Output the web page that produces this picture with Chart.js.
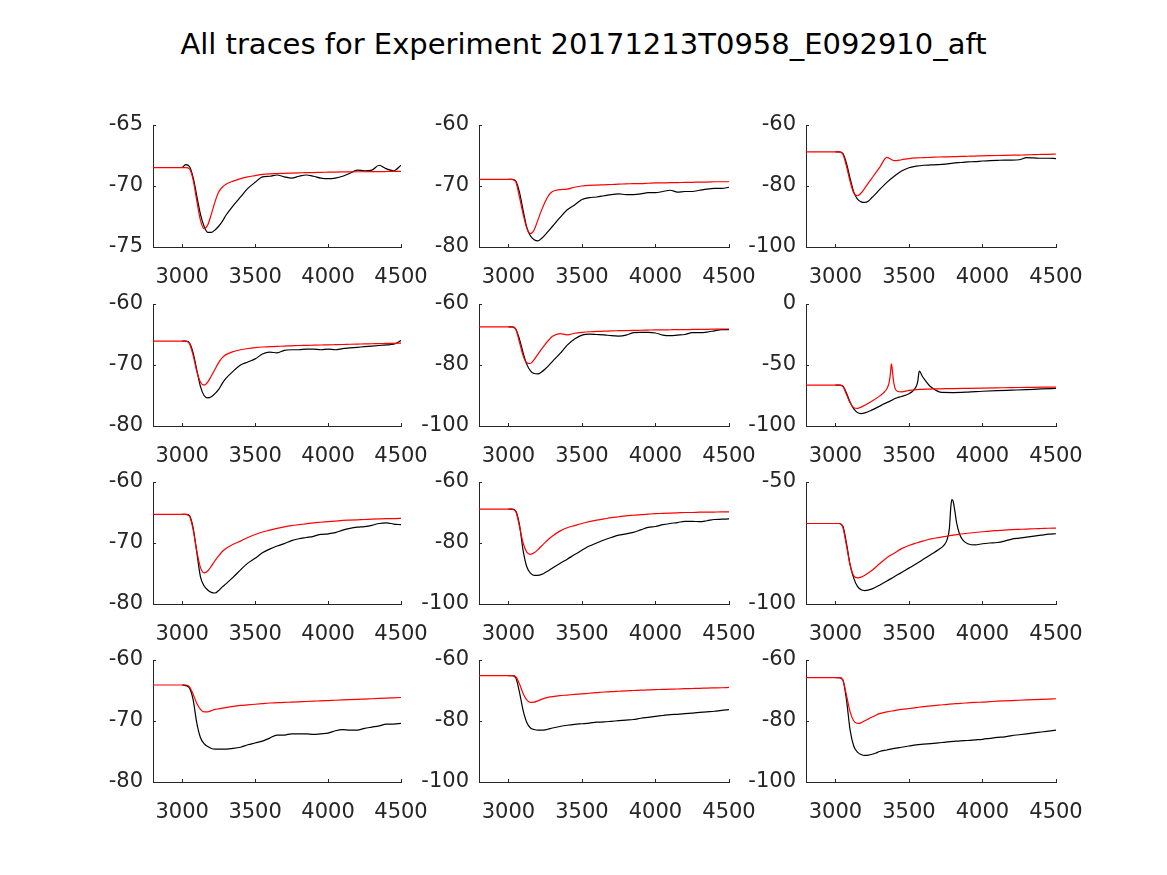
<!DOCTYPE html>
<html>
<head>
<meta charset="utf-8">
<script src="https://cdn.jsdelivr.net/npm/chart.js@4.4.1/dist/chart.umd.min.js"></script>
<style>
  body { margin: 0; background: #fff; }
  #page { position: relative; width: 1167px; height: 875px; overflow: hidden; }
  #title { position: absolute; left: 0; top: 24px; width: 1167px; text-align: center;
           font-family: 'DejaVu Sans', sans-serif; font-size: 29px; line-height: 40px; color: #000; }
  canvas { position: absolute; }
</style>
</head>
<body>
<div id="page">
  <div id="title">All traces for Experiment 20171213T0958_E092910_aft</div>
</div>
<script>
// sample times (common grid), black trace starts at 3000
var xs = [2800, 2900, 3000, 3025, 3050, 3075, 3100, 3125, 3150, 3175,
          3200, 3225, 3250, 3275, 3300, 3350, 3400, 3450, 3500, 3550,
          3600, 3650, 3700, 3750, 3800, 3850, 3900, 3950, 4000, 4050,
          4100, 4150, 4200, 4250, 4300, 4350, 4400, 4450, 4500];
var xs6 = [2800, 2900, 3000, 3025, 3050, 3075, 3100, 3125, 3150, 3175,
           3200, 3250, 3300, 3325, 3350, 3365, 3375, 3380, 3385, 3395,
           3405, 3420, 3450, 3500, 3525, 3550, 3560, 3570, 3575, 3590,
           3610, 3640, 3680, 3720, 3800, 3900, 4000, 4100, 4200, 4300,
           4400, 4500];
var xs9 = [2800, 2900, 3000, 3025, 3050, 3075, 3100, 3125, 3150, 3175,
           3200, 3250, 3300, 3350, 3400, 3450, 3500, 3550, 3600, 3650,
           3700, 3740, 3760, 3775, 3785, 3792, 3800, 3810, 3825, 3845,
           3870, 3900, 3950, 4000, 4050, 4100, 4150, 4200, 4250, 4300,
           4350, 4400, 4450, 4500];

var xTicks = [3000, 3500, 4000, 4500];

var black1 = [null, null, -68.5, -68.25, -68.4, -69.3, -70.8, -72.3, -73.3, -73.8,
  -73.8, -73.6, -73.3, -72.9, -72.4, -71.6, -70.9, -70.2, -69.7, -69.25,
  -69.2, -69.1, -69.25, -69.35, -69.2, -69.1, -69.2, -69.35, -69.4, -69.35,
  -69.2, -68.95, -68.7, -68.75, -68.7, -68.3, -68.6, -68.75, -68.3];
var red1 = [-68.5, -68.5, -68.5, -68.5, -68.6, -69.5, -71.2, -72.8, -73.5, -73.2,
  -72.3, -71.3, -70.5, -70.1, -69.85, -69.6, -69.4, -69.25, -69.15, -69.05,
  -69.0, -68.98, -68.96, -68.94, -68.92, -68.9, -68.9, -68.88, -68.87, -68.86,
  -68.85, -68.84, -68.83, -68.83, -68.82, -68.82, -68.81, -68.8, -68.8];

var black2 = [null, null, -68.9, -68.9, -69.2, -71.0, -74.0, -76.8, -78.2, -78.8,
  -79.0, -78.6, -78.0, -77.3, -76.6, -75.2, -73.9, -73.1, -72.2, -71.9,
  -71.8, -71.6, -71.4, -71.3, -71.4, -71.4, -71.3, -71.1, -71.1, -70.9,
  -70.7, -71.0, -70.9, -70.9, -70.7, -70.5, -70.4, -70.4, -70.2];
var red2 = [-68.9, -68.9, -68.9, -68.9, -69.3, -71.8, -74.6, -76.9, -77.8, -77.2,
  -75.6, -74.0, -72.6, -71.5, -70.9, -70.6, -70.5, -70.2, -70.0, -69.9,
  -69.85, -69.8, -69.75, -69.7, -69.65, -69.6, -69.6, -69.55, -69.5, -69.5,
  -69.45, -69.45, -69.4, -69.4, -69.35, -69.35, -69.3, -69.3, -69.3];

var black3 = [null, null, -68.8, -68.8, -69.3, -72.5, -77.5, -82.0, -84.3, -85.2,
  -85.4, -84.9, -83.7, -82.5, -81.2, -78.8, -76.8, -75.1, -74.0, -73.5,
  -73.2, -73.1, -73.0, -72.8, -72.5, -72.3, -72.1, -72.0, -71.8, -71.7,
  -71.6, -71.5, -71.5, -71.4, -70.7, -70.8, -70.9, -70.9, -71.0];
var red3 = [-68.8, -68.8, -68.8, -68.8, -69.5, -73.5, -78.5, -82.3, -83.2, -82.3,
  -80.7, -79.0, -77.3, -75.6, -74.0, -70.6, -71.7, -71.4, -71.0, -70.8,
  -70.7, -70.6, -70.5, -70.45, -70.4, -70.3, -70.25, -70.2, -70.1, -70.05,
  -70.0, -69.95, -69.9, -69.85, -69.8, -69.7, -69.65, -69.6, -69.5];

var black4 = [null, null, -66.1, -66.1, -66.4, -68.0, -70.8, -73.5, -75.0, -75.4,
  -75.2, -74.7, -74.0, -73.0, -72.2, -71.0, -70.0, -69.5, -69.0, -68.2,
  -67.9, -68.0, -67.6, -67.5, -67.5, -67.4, -67.4, -67.5, -67.4, -67.5,
  -67.3, -67.2, -67.1, -67.0, -66.9, -66.8, -66.7, -66.6, -66.0];
var red4 = [-66.1, -66.1, -66.1, -66.1, -66.5, -68.4, -71.0, -72.8, -73.3, -72.8,
  -71.8, -70.7, -69.6, -68.8, -68.3, -67.8, -67.5, -67.3, -67.15, -67.05,
  -67.0, -66.95, -66.9, -66.85, -66.8, -66.78, -66.75, -66.72, -66.7, -66.67,
  -66.64, -66.6, -66.57, -66.55, -66.52, -66.5, -66.47, -66.45, -66.4];

var black5 = [null, null, -67.5, -67.5, -68.2, -71.5, -76.0, -79.8, -81.9, -82.8,
  -82.9, -82.3, -81.3, -80.1, -78.8, -76.3, -73.5, -71.5, -70.2, -69.9,
  -70.0, -70.1, -70.4, -70.5, -70.2, -69.4, -69.3, -69.3, -69.5, -70.2,
  -70.4, -70.2, -70.0, -69.4, -69.4, -69.2, -68.8, -68.4, -68.4];
var red5 = [-67.5, -67.5, -67.5, -67.5, -68.3, -72.5, -77.0, -79.3, -79.5, -78.2,
  -76.5, -74.8, -73.2, -71.8, -70.6, -69.7, -70.1, -69.6, -69.3, -69.1,
  -69.0, -68.9, -68.8, -68.75, -68.7, -68.65, -68.6, -68.55, -68.5, -68.5,
  -68.45, -68.4, -68.4, -68.35, -68.3, -68.3, -68.25, -68.2, -68.2];

var black6 = [null, null, -66.5, -66.5, -67.2, -73.0, -80.5, -86.0, -89.0, -89.8,
  -89.3, -86.8, -83.8, -82.2, -80.8, -80.0, -79.4, -79.1, -78.8, -78.0,
  -77.5, -76.8, -75.8, -73.5, -71.5, -67.5, -63.5, -55.0, -55.5, -59.0,
  -62.5, -67.0, -70.5, -72.5, -72.6, -72.2, -71.5, -71.0, -70.6, -70.2,
  -69.6, -69.2];
var red6 = [-66.5, -66.5, -66.5, -66.5, -67.5, -74.0, -81.0, -85.0, -85.5, -84.5,
  -83.0, -79.5, -75.5, -73.0, -69.5, -64.5, -56.0, -49.0, -52.0, -63.0,
  -69.0, -71.5, -72.0, -70.8, -70.5, -70.2, -70.1, -70.0, -70.0, -69.9,
  -69.8, -69.7, -69.6, -69.5, -69.3, -69.1, -68.9, -68.7, -68.5, -68.4,
  -68.2, -68.1];

var black7 = [null, null, -65.3, -65.3, -65.5, -67.5, -71.5, -75.5, -77.0, -77.7,
  -78.1, -78.2, -77.8, -77.2, -76.7, -75.6, -74.4, -73.3, -72.5, -71.6,
  -71.0, -70.5, -70.1, -69.6, -69.3, -69.1, -68.9, -68.6, -68.5, -68.3,
  -67.9, -67.6, -67.4, -67.3, -67.1, -66.8, -66.7, -66.9, -67.0];
var red7 = [-65.3, -65.3, -65.3, -65.3, -65.6, -67.8, -71.3, -74.0, -74.9, -74.6,
  -73.8, -72.9, -72.1, -71.4, -70.9, -70.2, -69.7, -69.1, -68.6, -68.2,
  -67.9, -67.6, -67.35, -67.15, -67.0, -66.85, -66.7, -66.6, -66.5, -66.4,
  -66.3, -66.25, -66.2, -66.15, -66.1, -66.05, -66.0, -66.0, -65.95];

var black8 = [null, null, -68.9, -68.9, -69.5, -74.0, -82.5, -87.8, -89.9, -90.6,
  -90.6, -90.3, -89.7, -89.0, -88.2, -86.7, -85.3, -83.8, -82.4, -81.0,
  -80.0, -79.0, -78.2, -77.4, -77.0, -76.5, -75.7, -74.9, -74.6, -74.0,
  -73.6, -73.3, -72.9, -72.9, -73.0, -72.7, -72.3, -72.2, -72.1];
var red8 = [-68.9, -68.9, -68.9, -68.9, -69.7, -74.5, -80.0, -83.0, -83.7, -83.2,
  -82.2, -81.0, -79.8, -78.7, -77.7, -76.1, -75.0, -74.3, -73.6, -73.0,
  -72.5, -72.1, -71.7, -71.4, -71.1, -70.9, -70.7, -70.55, -70.4, -70.3,
  -70.2, -70.1, -70.0, -70.0, -69.9, -69.9, -69.85, -69.8, -69.8];

var black9 = [null, null, -67.0, -67.0, -68.0, -75.0, -84.0, -89.5, -92.8, -94.2,
  -94.5, -93.8, -92.3, -90.6, -88.8, -87.1, -85.3, -83.5, -81.6, -79.7,
  -77.8, -75.8, -73.5, -69.0, -60.0, -57.2, -57.8, -61.0, -67.0, -71.5,
  -74.0, -75.3, -75.8, -75.3, -75.0, -74.8, -74.2, -73.4, -73.0, -72.6,
  -72.2, -71.8, -71.4, -71.2];
var red9 = [-67.0, -67.0, -67.0, -67.0, -68.5, -76.0, -84.0, -88.5, -89.3, -89.0,
  -88.2, -86.2, -83.5, -81.0, -79.2, -77.3, -76.0, -75.0, -74.1, -73.3,
  -72.8, -72.4, -72.2, -72.0, -71.9, -71.9, -71.8, -71.7, -71.6, -71.4,
  -71.2, -71.0, -70.7, -70.4, -70.1, -69.9, -69.7, -69.5, -69.4, -69.3,
  -69.15, -69.05, -68.95, -68.9];

var black10 = [null, null, -64.1, -64.2, -64.6, -66.5, -70.3, -72.7, -73.7, -74.2,
  -74.5, -74.6, -74.6, -74.6, -74.6, -74.5, -74.3, -73.9, -73.6, -73.3,
  -72.8, -72.3, -72.3, -72.1, -72.1, -72.1, -72.2, -72.1, -72.0, -71.6,
  -71.4, -71.5, -71.5, -71.2, -71.0, -70.8, -70.5, -70.5, -70.4];
var red10 = [-64.1, -64.1, -64.1, -64.1, -64.4, -65.6, -67.1, -68.1, -68.5, -68.5,
  -68.3, -68.1, -68.0, -67.9, -67.8, -67.6, -67.45, -67.35, -67.25, -67.15,
  -67.05, -67.0, -66.95, -66.9, -66.85, -66.8, -66.75, -66.7, -66.65, -66.6,
  -66.55, -66.5, -66.45, -66.4, -66.35, -66.3, -66.25, -66.2, -66.15];

var black11 = [null, null, -65.1, -65.1, -65.8, -70.5, -76.5, -80.5, -82.3, -82.8,
  -83.0, -83.0, -82.9, -82.6, -82.3, -81.8, -81.4, -81.1, -80.9, -80.7,
  -80.4, -80.3, -80.1, -79.9, -79.7, -79.5, -79.1, -78.8, -78.5, -78.2,
  -77.9, -77.8, -77.6, -77.4, -77.2, -77.0, -76.8, -76.5, -76.3];
var red11 = [-65.1, -65.1, -65.1, -65.1, -65.5, -67.8, -71.0, -73.1, -73.9, -73.8,
  -73.4, -72.9, -72.5, -72.2, -72.0, -71.7, -71.5, -71.3, -71.1, -70.9,
  -70.7, -70.5, -70.4, -70.25, -70.1, -70.0, -69.9, -69.8, -69.7, -69.65,
  -69.55, -69.5, -69.4, -69.35, -69.3, -69.2, -69.15, -69.1, -69.0];

var black12 = [null, null, -65.8, -65.8, -66.5, -73.0, -83.0, -88.3, -90.2, -91.0,
  -91.3, -91.2, -90.9, -90.5, -90.0, -89.5, -89.0, -88.6, -88.2, -87.8,
  -87.6, -87.4, -87.2, -86.9, -86.7, -86.5, -86.4, -86.2, -86.0, -85.7,
  -85.4, -85.2, -84.8, -84.5, -84.2, -83.9, -83.6, -83.3, -83.0];
var red12 = [-65.8, -65.8, -65.8, -65.8, -66.5, -71.5, -77.0, -80.0, -80.8, -80.6,
  -79.9, -79.3, -78.7, -78.1, -77.6, -77.0, -76.6, -76.2, -75.9, -75.6,
  -75.3, -75.05, -74.8, -74.6, -74.4, -74.2, -74.05, -73.9, -73.8, -73.65,
  -73.5, -73.4, -73.3, -73.2, -73.1, -73.0, -72.9, -72.8, -72.7];

var yTicks = [
  [-75, -70, -65], [-80, -70, -60], [-100, -80, -60],
  [-80, -70, -60], [-100, -80, -60], [-100, -50, 0],
  [-80, -70, -60], [-100, -80, -60], [-100, -50],
  [-80, -70, -60], [-100, -80, -60], [-100, -80, -60]
];
var yMin = [-75, -80, -100, -80, -100, -100, -80, -100, -100, -80, -100, -100];
var yMax = [-65, -60, -60, -60, -60, 0, -60, -60, -50, -60, -60, -60];

var panelX = [xs, xs, xs, xs, xs, xs6, xs, xs, xs9, xs, xs, xs];
var blacks = [black1, black2, black3, black4, black5, black6, black7, black8, black9, black10, black11, black12];
var reds = [red1, red2, red3, red4, red5, red6, red7, red8, red9, red10, red11, red12];

// layout of the plot areas
var colLeft = [153, 479, 806];
var colWidth = [248, 250, 250];
var rowTop = [125, 304, 482, 660];
var plotH = 122;
var padL = 70, padT = 30, padR = 45, padB = 45;

Chart.defaults.font.family = "'DejaVu Sans', sans-serif";
Chart.defaults.font.size = 21;
Chart.defaults.color = '#262626';

// MATLAB style ticks pointing into the axes
var inwardTicks = {
  id: 'inwardTicks',
  afterDatasetsDraw: function (chart) {
    var ctx = chart.ctx, a = chart.chartArea, sx = chart.scales.x, sy = chart.scales.y;
    ctx.save();
    ctx.strokeStyle = '#262626';
    ctx.lineWidth = 1;
    ctx.beginPath();
    sx.ticks.forEach(function (t) {
      var px = Math.round(sx.getPixelForValue(t.value)) + 0.5;
      ctx.moveTo(px, a.bottom);
      ctx.lineTo(px, a.bottom - 3);
    });
    sy.ticks.forEach(function (t) {
      var py = Math.round(sy.getPixelForValue(t.value)) + 0.5;
      ctx.moveTo(a.left, py);
      ctx.lineTo(a.left + 3, py);
    });
    ctx.stroke();
    ctx.restore();
  }
};

function toPoints(xv, yv) {
  return xv.map(function (x, i) { return { x: x, y: yv[i] }; });
}

function plainLabel(v) { return String(v); }

var page = document.getElementById('page');

for (var i = 0; i < 12; i++) {
  var r = Math.floor(i / 3), c = i % 3;
  var cv = document.createElement('canvas');
  var w = colWidth[c] + padL + padR, h = plotH + padT + padB;
  cv.width = w; cv.height = h;
  cv.style.left = (colLeft[c] - padL) + 'px';
  cv.style.top = (rowTop[r] - padT) + 'px';
  page.appendChild(cv);

  (function (idx) {
    new Chart(cv, {
      type: 'line',
      data: {
        datasets: [{
          data: toPoints(panelX[idx], reds[idx]),
          borderColor: '#ff0000',
          borderWidth: 1.2,
          pointRadius: 0,
          cubicInterpolationMode: 'monotone'
        }, {
          data: toPoints(panelX[idx], blacks[idx]),
          borderColor: '#000000',
          borderWidth: 1.2,
          pointRadius: 0,
          cubicInterpolationMode: 'monotone'
        }]
      },
      options: {
        responsive: false,
        animation: false,
        layout: { padding: { left: 0, top: padT, right: padR, bottom: 0 } },
        plugins: { legend: { display: false }, tooltip: { enabled: false } },
        scales: {
          x: {
            type: 'linear',
            min: 2800,
            max: 4500,
            afterBuildTicks: function (s) { s.ticks = xTicks.map(function (v) { return { value: v }; }); },
            afterFit: function (s) { s.height = padB; },
            grid: { display: false, drawTicks: false },
            border: { display: true, color: '#262626', width: 1 },
            ticks: { padding: 18, maxRotation: 0, autoSkip: false, callback: plainLabel }
          },
          y: {
            type: 'linear',
            min: yMin[idx],
            max: yMax[idx],
            afterBuildTicks: function (s) { s.ticks = yTicks[idx].map(function (v) { return { value: v }; }); },
            afterFit: function (s) { s.width = padL; },
            grid: { display: false, drawTicks: false },
            border: { display: true, color: '#262626', width: 1 },
            ticks: { padding: 10, autoSkip: false, callback: plainLabel }
          }
        }
      },
      plugins: [inwardTicks]
    });
  })(i);
}
</script>
</body>
</html>
